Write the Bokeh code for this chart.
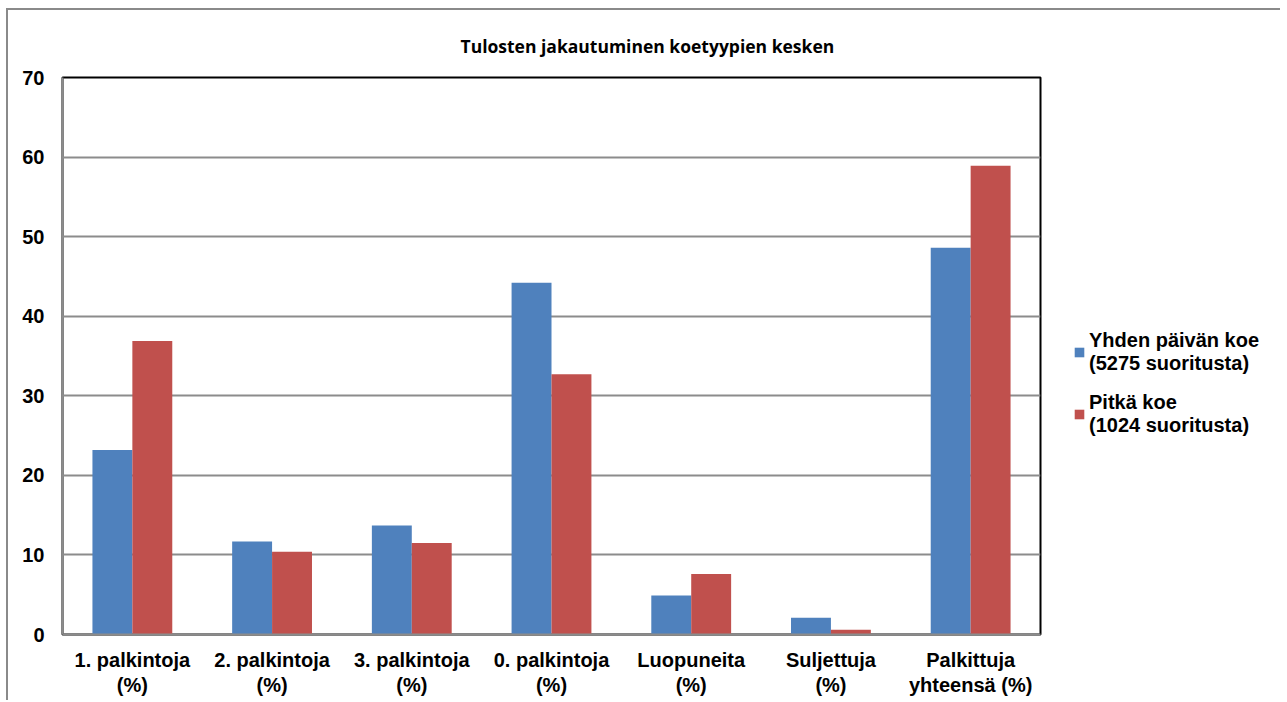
from bokeh.plotting import figure
from bokeh.layouts import row
from bokeh.models import FactorRange, Range1d, Legend, LegendItem, ColumnDataSource, FixedTicker
from bokeh.transform import dodge
from bokeh.embed import file_html
from bokeh.resources import INLINE

categories = ["1. palkintoja\n(%)", "2. palkintoja\n(%)", "3. palkintoja\n(%)",
              "0. palkintoja\n(%)", "Luopuneita\n(%)", "Suljettuja\n(%)",
              "Palkittuja\nyhteensä (%)"]
one_day = [23.2, 11.7, 13.7, 44.2, 4.9, 2.1, 48.6]
long_test = [36.9, 10.4, 11.5, 32.7, 7.6, 0.6, 58.9]
series_names = ["Yhden päivän koe\n(5275 suoritusta)", "Pitkä koe\n(1024 suoritusta)"]
series_colors = ["#4F81BD", "#C0504D"]
y_ticks = [0, 10, 20, 30, 40, 50, 60, 70]
title_text = "Tulosten jakautuminen koetyypien kesken"

src = ColumnDataSource(dict(cat=categories, a=one_day, b=long_test))

# main chart
p = figure(width=1042, height=690, output_backend="svg", toolbar_location=None,
           x_range=FactorRange(*categories, range_padding=0),
           y_range=Range1d(0, 70),
           min_border_left=54, min_border_right=10, min_border_top=67, min_border_bottom=66)

bw = 1 / 3.5
r1 = p.vbar(x=dodge("cat", -bw / 2, range=p.x_range), top="a", width=bw, source=src,
            fill_color=series_colors[0], line_color=None)
r2 = p.vbar(x=dodge("cat", bw / 2, range=p.x_range), top="b", width=bw, source=src,
            fill_color=series_colors[1], line_color=None)

p.title.text = title_text
p.title.text_font = "Open Sans"
p.title.text_font_size = "17.5px"
p.title.text_font_style = "bold"
p.title.text_color = "black"
p.title.align = "left"
p.title.offset = 398
p.title.standoff = 40

p.outline_line_color = "black"
p.outline_line_width = 2

p.xgrid.grid_line_color = None
p.ygrid.grid_line_color = "#8c8c8c"
p.ygrid.grid_line_width = 2
p.yaxis.ticker = FixedTicker(ticks=y_ticks)

for ax in (p.xaxis[0], p.yaxis[0]):
    ax.axis_line_color = "#8c8c8c"
    ax.axis_line_width = 2
    ax.major_tick_line_color = None
    ax.minor_tick_line_color = None
    ax.major_tick_out = 0
    ax.major_tick_in = 0
    ax.major_label_text_font = "Liberation Sans"
    ax.major_label_text_font_style = "bold"
    ax.major_label_text_color = "black"

p.yaxis.major_label_text_font_size = "20px"
p.yaxis.major_label_standoff = 18
p.xaxis.major_label_text_font_size = "20px"
p.xaxis.major_label_standoff = 14
p.xaxis.major_label_text_line_height = 1.15

# legend panel (its own small canvas to the right of the plot area)
lg = figure(width=230, height=690, output_backend="svg", toolbar_location=None,
            x_range=Range1d(0, 1), y_range=Range1d(0, 1),
            x_axis_location=None, y_axis_location=None,
            min_border_left=0, min_border_right=0, min_border_top=0, min_border_bottom=0)
lg.grid.visible = False
lg.outline_line_color = None
proxy = ColumnDataSource(dict(x=[0.5], top=[0.0]))
k1 = lg.vbar(x="x", top="top", width=0, source=proxy,
             fill_color=series_colors[0], line_color=None)
k2 = lg.vbar(x="x", top="top", width=0, source=proxy,
             fill_color=series_colors[1], line_color=None)

legend = Legend(items=[LegendItem(label=series_names[0], renderers=[k1]),
                       LegendItem(label=series_names[1], renderers=[k2])],
                location=(23, 197), border_line_color=None, background_fill_alpha=0,
                padding=0, margin=0, spacing=16, glyph_width=12, glyph_height=12,
                label_standoff=4, label_text_font="Liberation Sans",
                label_text_color="black",
                label_text_font_style="bold", label_text_font_size="20px")
lg.add_layout(legend, "center")

layout = row(p, lg, spacing=0)
layout.styles = {"margin-left": "6px", "margin-top": "8px",
                 "border-top": "2px solid #8a8a8a", "border-left": "2px solid #8a8a8a"}

open("out.html", "w").write(file_html(layout, INLINE))
